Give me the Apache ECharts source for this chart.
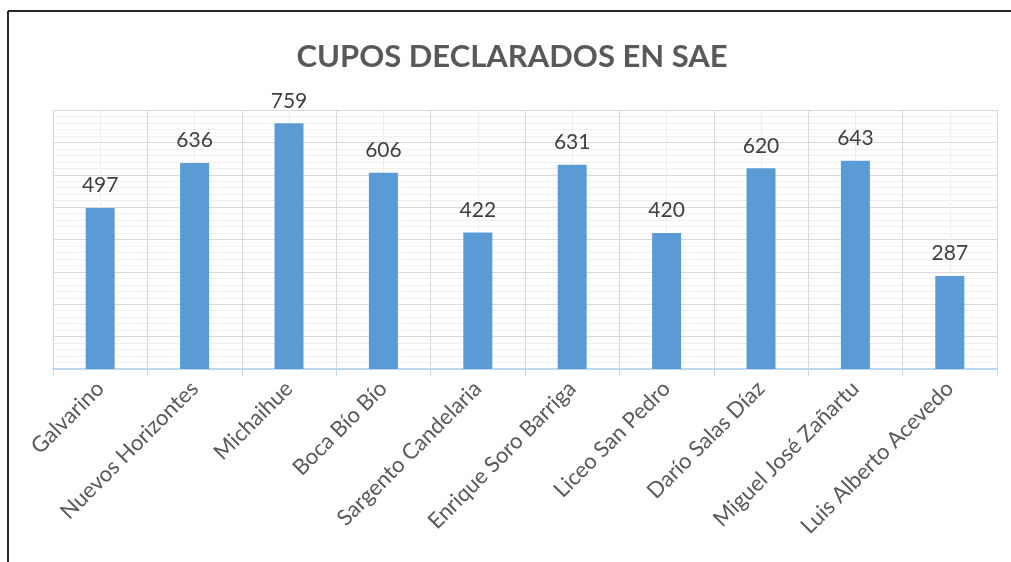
<!DOCTYPE html>
<html><head><meta charset="utf-8">
<script src="https://cdn.jsdelivr.net/npm/echarts@6/dist/echarts.min.js"></script>
<style>html,body{margin:0;padding:0;background:#fff;overflow:hidden}#c{width:1011px;height:562px}</style>
</head><body><div id="c"></div>
<script>
const titleText = 'CUPOS DECLARADOS EN SAE';
const categories = ['Galvarino','Nuevos Horizontes','Michaihue','Boca Bío Bío','Sargento Candelaria','Enrique Soro Barriga','Liceo San Pedro','Darío Salas Díaz','Miguel José Zañartu','Luis Alberto Acevedo'];
const cupos = [497,636,759,606,422,631,420,620,643,287];

const chart = echarts.init(document.getElementById('c'), null, {renderer:'canvas'});
chart.setOption({
  animation:false,
  backgroundColor:'#fff',
  title:{text:titleText,left:507,textAlign:'center',top:36,
    textStyle:{fontFamily:'Lato',fontWeight:'bold',fontSize:31,color:'#595959'}},
  graphic:[
    {type:'rect',shape:{x:1000,y:13,width:20,height:560},style:{fill:'#fff'},z:90},
    {type:'line',shape:{x1:8,y1:11,x2:1011,y2:11},style:{stroke:'#262626',lineWidth:2},z:100},
    {type:'line',shape:{x1:8,y1:11,x2:8,y2:562},style:{stroke:'#262626',lineWidth:2},z:100}
  ],
  grid:{left:53,right:14,top:110,bottom:193},
  xAxis:[{
    type:'category',data:categories,boundaryGap:true,
    axisLine:{show:true,lineStyle:{color:'#BDD7EE',width:2}},
    axisTick:{show:true,length:7,lineStyle:{color:'#C5D9EE',width:1}},
    splitLine:{show:true,lineStyle:{color:'#D9D9D9',width:1}},
    axisLabel:{rotate:45,margin:16,fontFamily:'Lato',fontSize:22,color:'#595959',interval:0}
  },{
    type:'value',min:0,max:10,interval:1,position:'bottom',
    axisLine:{show:false},axisTick:{show:false},axisLabel:{show:false},
    splitLine:{show:false},
    minorTick:{show:false,splitNumber:2},
    minorSplitLine:{show:true,lineStyle:{color:'#EDEDED',width:1}}
  }],
  yAxis:{type:'value',min:0,max:800,interval:100,
    axisLine:{show:false},axisTick:{show:false},axisLabel:{show:false},
    splitLine:{show:true,lineStyle:{color:'#D9D9D9',width:1}},
    minorTick:{show:false,splitNumber:5},
    minorSplitLine:{show:true,lineStyle:{color:'#F0F0F0',width:1}}
  },
  series:[{type:'bar',data:cupos,xAxisIndex:0,barWidth:29,
    itemStyle:{color:'#5B9BD5'},
    label:{show:true,position:'top',distance:12,fontFamily:'Lato',fontSize:21,color:'#404040'}}]
});
</script></body></html>
